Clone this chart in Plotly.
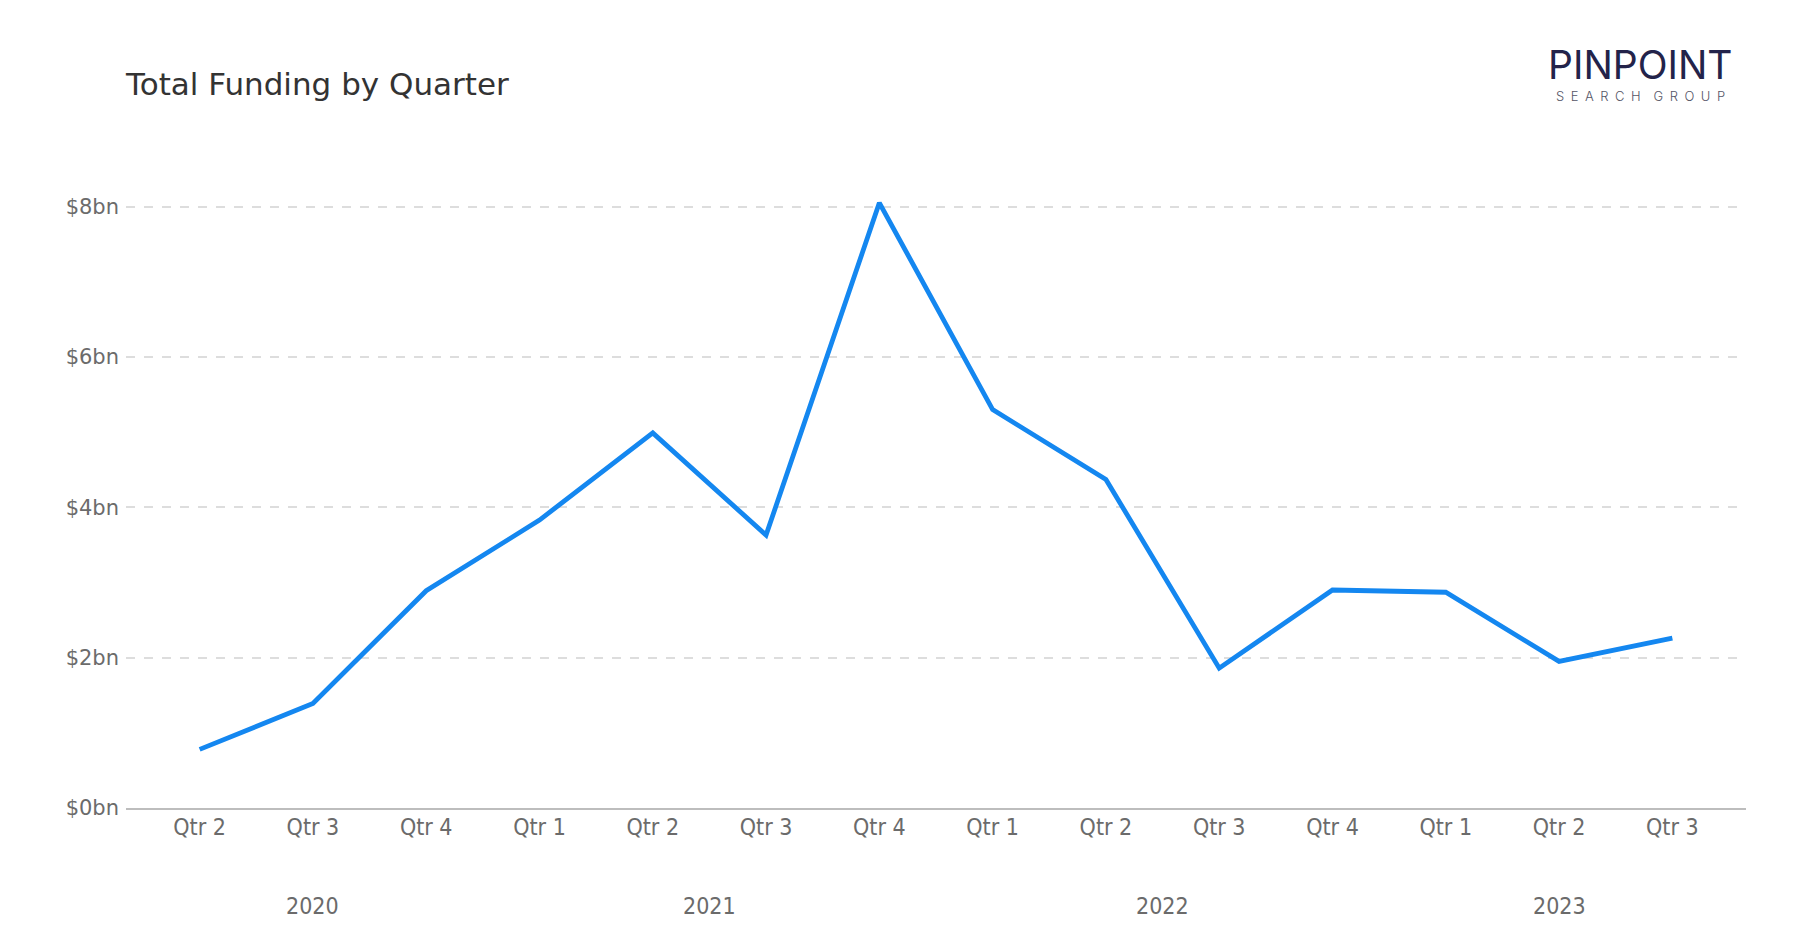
import plotly.graph_objects as go

quarters = ["Qtr 2", "Qtr 3", "Qtr 4", "Qtr 1", "Qtr 2", "Qtr 3", "Qtr 4",
            "Qtr 1", "Qtr 2", "Qtr 3", "Qtr 4", "Qtr 1", "Qtr 2", "Qtr 3"]
years = ["2020", "2020", "2020", "2021", "2021", "2021", "2021",
         "2022", "2022", "2022", "2022", "2023", "2023", "2023"]
funding_bn = [0.78, 1.39, 2.89, 3.83, 4.99, 3.63, 8.05,
              5.30, 4.37, 1.86, 2.90, 2.87, 1.95, 2.26]
y_ticks = [0, 2, 4, 6, 8]
y_tick_labels = ["$0bn", "$2bn", "$4bn", "$6bn", "$8bn"]

idx = list(range(len(quarters)))

fig = go.Figure()
fig.add_trace(go.Scatter(
    x=idx, y=funding_bn, mode="lines",
    line=dict(color="#1487F0", width=4.8),
    hovertemplate="%{text}: $%{y}bn<extra></extra>",
    text=[f"{q} {y}" for q, y in zip(quarters, years)],
))

# year group labels centered under their quarters
year_order = []
for y in years:
    if y not in year_order:
        year_order.append(y)
annotations = []
for yr in year_order:
    pos = [i for i, y in enumerate(years) if y == yr]
    annotations.append(dict(
        x=sum(pos) / len(pos), xref="x", y=-0.153, yref="paper",
        text=yr, showarrow=False, yanchor="middle",
        font=dict(family="DejaVu Sans Condensed", size=23, color="#6b6b6b"),
    ))

# logo
annotations.append(dict(
    x=0.935, xref="paper", y=1.163, yref="paper", text="PINPOINT", showarrow=False,
    xanchor="center", yanchor="middle",
    font=dict(family="Inter", size=39, color="#23234a", weight=400),
))
annotations.append(dict(
    x=0.935, xref="paper", y=1.115, yref="paper",
    text="S\u2002E\u2002A\u2002R\u2002C\u2002H\u2003G\u2002R\u2002O\u2002U\u2002P",
    showarrow=False, xanchor="center", yanchor="middle",
    font=dict(family="Inter", size=13, color="#555566", weight=300),
))

fig.update_layout(
    width=1800, height=930,
    margin=dict(l=126, r=54, t=169, b=122),
    paper_bgcolor="white", plot_bgcolor="white",
    showlegend=False,
    title=dict(
        text="Total Funding by Quarter", x=126 / 1800, xanchor="left",
        y=1 - 84 / 930, yanchor="middle",
        font=dict(family="DejaVu Sans", size=31, color="#333333"),
    ),
    xaxis=dict(
        range=[-0.65, 13.65], tickmode="array", tickvals=idx, ticktext=quarters,
        showgrid=False, zeroline=False, showline=True, linecolor="#bdbdbd",
        linewidth=1.5, ticks="", ticklabelstandoff=-2,
        tickfont=dict(family="DejaVu Sans Condensed", size=23, color="#6b6b6b"),
    ),
    yaxis=dict(
        range=[0, 8.5], tickmode="array", tickvals=y_ticks, ticktext=y_tick_labels,
        showgrid=True, gridcolor="#dddddd", griddash="dash", gridwidth=1.5,
        zeroline=False, showline=False, ticks="", ticklabelstandoff=6,
        tickfont=dict(family="DejaVu Sans", size=21, color="#6b6b6b"),
    ),
    annotations=annotations,
)

fig.write_html("out.html")
